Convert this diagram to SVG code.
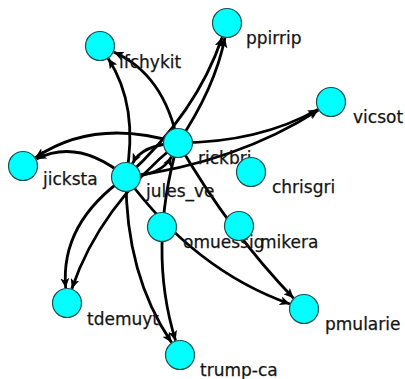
<svg xmlns="http://www.w3.org/2000/svg" width="405" height="379" viewBox="0 0 405 379">
<style>
.e{fill:none;stroke:#000;stroke-width:2.8;marker-end:url(#ah)}
.n{fill:#00ffff;stroke:#1f4f4f;stroke-width:1.2}
.t{font-family:"DejaVu Sans",sans-serif;font-size:17px;fill:#151515;stroke:#151515;stroke-width:0.25}
</style>
<defs>
<marker id="ah" markerUnits="userSpaceOnUse" markerWidth="11" markerHeight="9" refX="10" refY="4.5" orient="auto">
<path d="M0,0 L10,4.5 L0,9 L2.5,4.5 z" fill="#000"/>
</marker>
</defs>
<rect width="405" height="379" fill="#fff"/>
<g id="edges">
<path class="e" d="M178,143 Q164.2,74.2 113.7,52"/>
<path class="e" d="M126,177 Q139.2,106.3 108.2,58.6"/>
<path class="e" d="M178,143 Q215,88 224.9,37.8"/>
<path class="e" d="M126,177 Q196.5,113.1 222.2,37.2"/>
<path class="e" d="M178,143 Q259.8,142.4 318,109.4"/>
<path class="e" d="M126,177 Q236.9,162.5 318.4,110.1"/>
<path class="e" d="M178,143 Q95,117.3 35.4,157.6"/>
<path class="e" d="M126,177 Q78.1,137.5 36.3,159.1"/>
<path class="e" d="M126,177 Q60,222.9 65.7,288.1"/>
<path class="e" d="M178,143 Q99.5,207 71.8,288.8"/>
<path class="e" d="M126,177 Q125.4,274.4 171.6,342.6"/>
<path class="e" d="M178,143 Q147.2,249.3 175.6,340.7"/>
<path class="e" d="M178,143 Q231,233.6 293.6,298.2"/>
<path class="e" d="M126,177 Q194.8,270.2 289.9,304"/>
<path class="e" d="M178,143 Q141.8,144.4 132.5,163.5"/>
<path class="e" d="M126,177 Q162.2,175.6 171.5,156.5"/>
</g>
<g id="lfchykit"><circle class="n" cx="100" cy="46" r="14.5"/><text class="t" x="119" y="68">lfchykit</text></g>
<g id="ppirrip"><circle class="n" cx="227" cy="23" r="14.5"/><text class="t" x="246" y="44">ppirrip</text></g>
<g id="vicsot"><circle class="n" cx="331" cy="102" r="14.5"/><text class="t" x="353" y="123">vicsot</text></g>
<g id="rickbri"><circle class="n" cx="178" cy="143" r="14.5"/><text class="t" x="198" y="164">rickbri</text></g>
<g id="chrisgri"><circle class="n" cx="251" cy="172" r="14.5"/><text class="t" x="272" y="193">chrisgri</text></g>
<g id="jicksta"><circle class="n" cx="23" cy="166" r="14.5"/><text class="t" x="43" y="185">jicksta</text></g>
<g id="jules_ve"><circle class="n" cx="126" cy="177" r="14.5"/><text class="t" x="146" y="197">jules_ve</text></g>
<g id="omuessig"><circle class="n" cx="162" cy="227" r="14.5"/><text class="t" x="183" y="248">omuessig</text></g>
<g id="mikera"><circle class="n" cx="239" cy="226" r="14.5"/><text class="t" x="260" y="248">mikera</text></g>
<g id="tdemuyt"><circle class="n" cx="67" cy="303" r="14.5"/><text class="t" x="87" y="325">tdemuyt</text></g>
<g id="trump-ca"><circle class="n" cx="180" cy="355" r="14.5"/><text class="t" x="200" y="376">trump-ca</text></g>
<g id="pmularie"><circle class="n" cx="304" cy="309" r="14.5"/><text class="t" x="325" y="330">pmularie</text></g>
</svg>
